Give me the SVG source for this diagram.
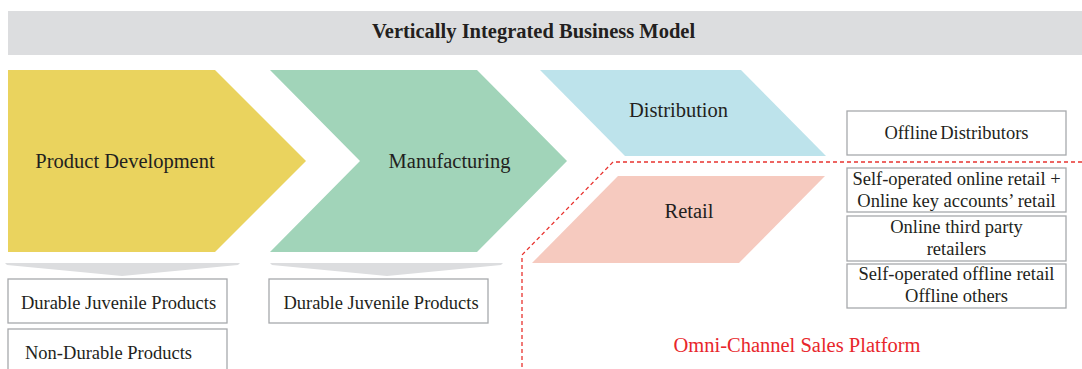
<svg xmlns="http://www.w3.org/2000/svg" width="1082" height="369" viewBox="0 0 1082 369">
  <style>
    text { font-family: "Liberation Serif", "Times New Roman", serif; fill: #231F20; }
    .title { font-size: 20.5px; font-weight: bold; text-anchor: middle; }
    .stage { font-size: 20.5px; text-anchor: middle; }
    .item { font-size: 18.5px; text-anchor: middle; }
    .box { fill: #FFFFFF; stroke: #A7A9AC; stroke-width: 1.3; }
    .down { fill: #DCDDDF; }
    .platform { fill: none; stroke: #E8332F; stroke-width: 1.3; stroke-dasharray: 4 3; }
    .red { fill: #E8262B; font-size: 20.5px; text-anchor: middle; }
  </style>

  <!-- header bar -->
  <g id="header">
    <rect x="8" y="11" width="1074" height="44" fill="#DCDDDF"/>
    <text class="title" x="533.5" y="38">Vertically Integrated Business Model</text>
  </g>

  <!-- value-chain stages -->
  <g id="product-development">
    <polygon points="8,70 215,70 306,161 215,252 8,252" fill="#EAD35E"/>
    <text class="stage" x="125" y="168">Product Development</text>
  </g>
  <g id="manufacturing">
    <polygon points="270,70 477,70 567,161 477,252 270,252 360,161" fill="#A1D4B9"/>
    <text class="stage" x="449.5" y="168">Manufacturing</text>
  </g>
  <g id="distribution">
    <polygon points="540,70 741,70 826,156 625,156" fill="#BDE3EB"/>
    <text class="stage" x="678.5" y="117">Distribution</text>
  </g>
  <g id="retail">
    <polygon points="618,176 825,176 739,263 532,263" fill="#F6CABF"/>
    <text class="stage" x="689" y="218">Retail</text>
  </g>

  <!-- downward pointers under the first two stages -->
  <g id="connectors">
    <polygon class="down" points="5,263 240,263 238,265 122,276 7,265"/>
    <polygon class="down" points="270,263 503,263 501,265 387,276 272,265"/>
    <polyline class="platform" points="1082,162 613,162 522,255 522,369"/>
  </g>

  <!-- product lines -->
  <g id="durable-juvenile-1">
    <rect class="box" x="8" y="279" width="219" height="44"/>
    <text class="item" x="118.5" y="309">Durable Juvenile Products</text>
  </g>
  <g id="non-durable">
    <rect class="box" x="8" y="329" width="219" height="44"/>
    <text class="item" x="25" y="359" text-anchor="start" style="text-anchor:start">Non-Durable Products</text>
  </g>
  <g id="durable-juvenile-2">
    <rect class="box" x="269" y="279" width="219" height="44"/>
    <text class="item" x="381" y="309">Durable Juvenile Products</text>
  </g>

  <!-- sales channels -->
  <g id="offline-distributors">
    <rect class="box" x="847" y="111" width="219" height="44"/>
    <text class="item" x="956.5" y="139" word-spacing="-2">Offline Distributors</text>
  </g>
  <g id="online-self-operated">
    <rect class="box" x="847" y="168" width="219" height="44"/>
    <text class="item" x="956.5" y="185">Self-operated online retail +</text>
    <text class="item" x="956.5" y="207">Online key accounts’ retail</text>
  </g>
  <g id="online-third-party">
    <rect class="box" x="847" y="216" width="219" height="45"/>
    <text class="item" x="956.5" y="233">Online third party</text>
    <text class="item" x="956.5" y="255">retailers</text>
  </g>
  <g id="offline-retail">
    <rect class="box" x="847" y="264" width="219" height="44"/>
    <text class="item" x="956.5" y="280">Self-operated offline retail</text>
    <text class="item" x="956.5" y="302">Offline others</text>
  </g>

  <g id="omni-channel-label">
    <text class="red" x="797" y="352">Omni-Channel Sales Platform</text>
  </g>
</svg>
